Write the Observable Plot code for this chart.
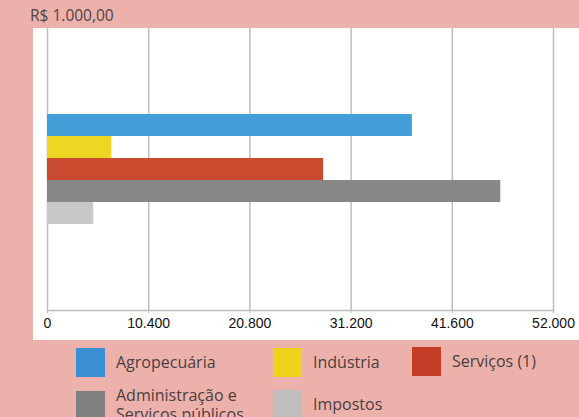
<!DOCTYPE html>
<html>
<head>
<meta charset="utf-8">
<script src="https://cdn.jsdelivr.net/npm/d3@7"></script>
<script src="https://cdn.jsdelivr.net/npm/@observablehq/plot@0.6"></script>
<style>
  html, body { margin: 0; padding: 0; }
  body { width: 579px; height: 417px; background: #EDB1AB; position: relative; overflow: hidden; font-family: "Open Sans", sans-serif; }
  #title { position: absolute; left: 30px; top: 4px; font-size: 15.5px; color: #4e4444; }
  #chart { position: absolute; left: 33px; top: 28px; }
  .lg { position: absolute; display: flex; align-items: center; font-size: 16px; color: #4a3e3e; line-height: 19px; }
  .sw { width: 29px; height: 29px; margin-right: 11px; flex: none; }
</style>
</head>
<body>
<div id="title"></div>
<div id="chart"></div>
<div id="legend"></div>
<script>
const unitLabel = "R$ 1.000,00";
const categories = ["Agropecuária", "Indústria", "Serviços (1)", "Administração e Serviços públicos", "Impostos"];
const legendLabels = ["Agropecuária", "Indústria", "Serviços (1)", "Administração e<br>Serviços públicos", "Impostos"];
const values = [37500, 6620, 28380, 46580, 4750];
const barColors = ["#449ED8", "#EED624", "#CA4A30", "#878787", "#C8C8C8"];
const legendColors = ["#3A90D2", "#EDD31E", "#C53D26", "#7F7F7F", "#BFBFBF"];
const xTicks = [0, 10400, 20800, 31200, 41600, 52000];

const data = categories.map((c, i) => ({category: c, value: values[i]}));
const fmt = d3.formatLocale({thousands: ".", decimal: ",", grouping: [3], currency: ["R$", ""]}).format(",d");

document.getElementById("title").textContent = unitLabel;

const plot = Plot.plot({
  width: 546,
  height: 312,
  marginLeft: 14,
  marginRight: 26,
  marginTop: 0,
  marginBottom: 30,
  style: {background: "white", overflow: "visible", fontFamily: "'Liberation Sans', Arial, sans-serif", fontSize: "14px", color: "#111"},
  x: {domain: [0, 52000], ticks: xTicks, tickFormat: fmt, label: null, tickSize: 3, tickPadding: 5},
  y: {domain: categories, range: [85, 197], padding: 0, axis: null},
  color: {domain: categories, range: barColors},
  marks: [
    Plot.gridX(xTicks, {stroke: "#bdbdbd", strokeOpacity: 1, strokeWidth: 1.5}),
    Plot.frame({anchor: "bottom", stroke: "#bdbdbd", strokeWidth: 1.5}),
    Plot.barX(data, {x1: 0, x2: "value", y: "category", fill: "category", inset: 0}),
    Plot.axisX(xTicks, {tickFormat: fmt, tickSize: 3, tickPadding: 5, stroke: "#bdbdbd", fill: "#111", label: null})
  ]
});
document.getElementById("chart").appendChild(plot);

const legendPos = [
  {left: 76, top: 348}, {left: 273, top: 348}, {left: 412, top: 347},
  {left: 76, top: 386}, {left: 273, top: 390}
];
const legend = document.getElementById("legend");
legendLabels.forEach((lab, i) => {
  const d = document.createElement("div");
  d.className = "lg";
  d.style.left = legendPos[i].left + "px";
  d.style.top = legendPos[i].top + "px";
  d.innerHTML = `<div class="sw" style="background:${legendColors[i]}"></div><div>${lab}</div>`;
  legend.appendChild(d);
});
</script>
</body>
</html>
